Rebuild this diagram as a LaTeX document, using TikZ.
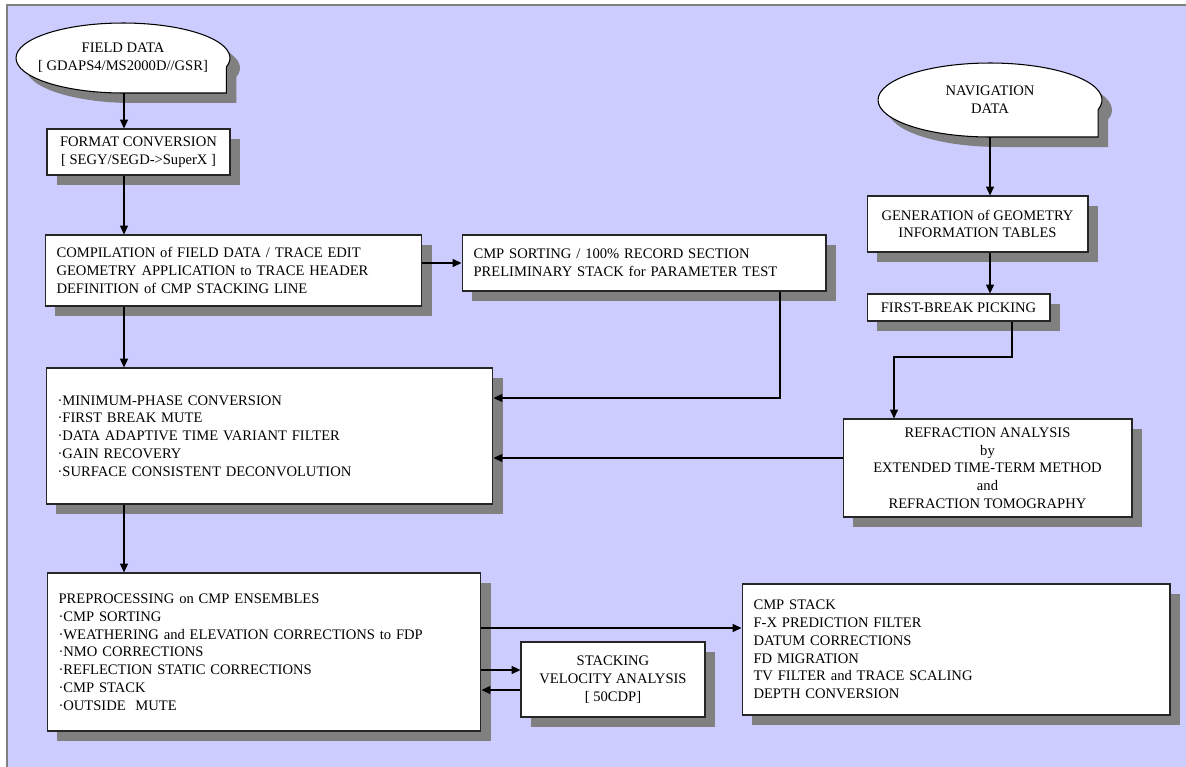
\documentclass[tikz,border=0pt]{standalone}
\usepackage{fontspec}
\setmainfont{Liberation Serif}
\usetikzlibrary{arrows.meta,shadows,shapes.geometric}

\definecolor{backlav}{HTML}{CCCCFF}
\definecolor{shadowgray}{HTML}{808080}

\tikzset{
  stepbox/.style={draw=black!85, fill=white, line width=0.6pt, inner sep=0pt,
    drop shadow={shadow xshift=0.2cm, shadow yshift=-0.2cm, fill=shadowgray, opacity=1},
    font=\fontsize{8.3}{10.1}\selectfont, align=center},
  listbox/.style={stepbox, align=left, inner xsep=0.23cm, text width=#1},
  tapetext/.style={ellipse, inner sep=0pt, align=center,
    font=\fontsize{8.3}{10.1}\selectfont},
  flow/.style={-{Triangle[length=5pt,width=4.5pt]}, line width=0.6pt},
}

\begin{document}
\begin{tikzpicture}[x=0.02cm, y=-0.02cm]
  \useasboundingbox (0,0) rectangle (1186,767);
  \fill[backlav] (7,5) rectangle (1190,771);
  \draw[gray, line width=0.8pt] (1190,5) -- (7,5) -- (7,771);

  % tape symbols with their shadows
  \foreach \d/\c/\l in {10/shadowgray/none, 0/white/black} {
    \filldraw[fill=\c, draw=\l, line width=0.6pt] (123+\d,93+\d)
      arc[start angle=270, end angle=-15, x radius=2.14cm, y radius=0.7cm]
      |- (123+\d,93+\d) -- cycle;
    \filldraw[fill=\c, draw=\l, line width=0.6pt] (990+\d,137+\d)
      arc[start angle=270, end angle=-15, x radius=2.24cm, y radius=0.74cm]
      |- (990+\d,137+\d) -- cycle;
  }
  \node[tapetext, minimum width=4.28cm, minimum height=1.4cm] (field) at (123,58)
    {FIELD DATA\\{[} GDAPS4/MS2000D//GSR]};
  \node[tapetext, minimum width=4.48cm, minimum height=1.48cm] (nav) at (990,100)
    {NAVIGATION\\DATA};

  % left column
  \node[stepbox, minimum width=3.66cm, minimum height=0.92cm] (format) at (138.5,152)
    {FORMAT CONVERSION\\{[} SEGY/SEGD->SuperX ]};
  \node[listbox=7.08cm, minimum height=1.42cm] (compile) at (233.5,270.5)
    {COMPILATION of FIELD DATA / TRACE EDIT\\
     GEOMETRY APPLICATION to TRACE HEADER\\
     DEFINITION of CMP STACKING LINE};
  \node[listbox=6.82cm, minimum height=1.12cm] (sort) at (644,263)
    {CMP SORTING / 100\% RECORD SECTION\\
     PRELIMINARY STACK for PARAMETER TEST};
  \node[listbox=8.48cm, minimum height=2.72cm] (minphase) at (269.5,436)
    {·MINIMUM-PHASE CONVERSION\\
     ·FIRST BREAK MUTE\\
     ·DATA ADAPTIVE TIME VARIANT FILTER\\
     ·GAIN RECOVERY\\
     ·SURFACE CONSISTENT DECONVOLUTION};
  \node[listbox=8.22cm, minimum height=3.16cm] (prep) at (264,652)
    {PREPROCESSING on CMP ENSEMBLES\\
     ·CMP SORTING\\
     ·WEATHERING and ELEVATION CORRECTIONS to FDP\\
     ·NMO CORRECTIONS\\
     ·REFLECTION STATIC CORRECTIONS\\
     ·CMP STACK\\
     ·OUTSIDE\ \ MUTE};
  \node[stepbox, minimum width=3.68cm, minimum height=1.5cm] (velo) at (613,679.5)
    {STACKING\\VELOCITY ANALYSIS\\{[} 50CDP]};
  \node[listbox=8.1cm, minimum height=2.62cm] (final) at (956,649.5)
    {CMP STACK\\
     F-X PREDICTION FILTER\\
     DATUM CORRECTIONS\\
     FD MIGRATION\\
     TV FILTER and TRACE SCALING\\
     DEPTH CONVERSION};

  % right column
  \node[stepbox, minimum width=4.42cm, minimum height=1.12cm] (geom) at (977.5,224)
    {GENERATION of GEOMETRY\\INFORMATION TABLES};
  \node[stepbox, minimum width=3.66cm, minimum height=0.54cm] (fbreak) at (958.5,307.5)
    {FIRST-BREAK PICKING};
  \node[stepbox, minimum width=5.78cm, minimum height=1.96cm] (refr) at (987.5,468)
    {REFRACTION ANALYSIS\\by\\EXTENDED TIME-TERM METHOD\\and\\REFRACTION TOMOGRAPHY};

  % connector lanes
  \coordinate (lane) at (124,0);
  \coordinate (sortdrop) at (780,398);
  \coordinate (fbdrop) at (1012,357);
  \coordinate (refrdrop) at (894,357);
  \coordinate (refrout) at (0,458);
  \coordinate (finalin) at (0,628);
  \coordinate (veloin) at (0,670);
  \coordinate (veloout) at (0,690);

  \draw[flow] (lane |- field.south) -- (lane |- format.north);
  \draw[flow] (lane |- format.south) -- (lane |- compile.north);
  \draw[flow] (compile.east |- sort.west) -- (sort.west);
  \draw[flow] (lane |- compile.south) -- (lane |- minphase.north);
  \draw[flow] (sortdrop |- sort.south) -- (sortdrop) -- (sortdrop -| minphase.east);
  \draw[flow] (lane |- minphase.south) -- (lane |- prep.north);
  \draw[flow] (nav.south) -- (nav.south |- geom.north);
  \draw[flow] (nav.south |- geom.south) -- (nav.south |- fbreak.north);
  \draw[flow] (fbdrop |- fbreak.south) -- (fbdrop) -- (refrdrop) -- (refrdrop |- refr.north);
  \draw[flow] (refrout -| refr.west) -- (refrout -| minphase.east);
  \draw[flow] (finalin -| prep.east) -- (finalin -| final.west);
  \draw[flow] (veloin -| prep.east) -- (veloin -| velo.west);
  \draw[flow] (veloout -| velo.west) -- (veloout -| prep.east);
\end{tikzpicture}
\end{document}
